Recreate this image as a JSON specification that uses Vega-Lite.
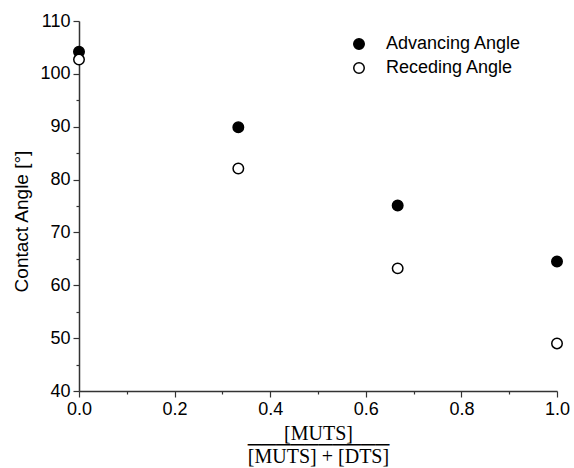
{
  "$schema": "https://vega.github.io/schema/vega-lite/v6.json",
  "width": 478,
  "height": 370,
  "autosize": "none",
  "padding": {"left": 79, "top": 21, "right": 17, "bottom": 77},
  "background": "white",
  "config": {
    "view": {"stroke": null},
    "font": "Liberation Sans",
    "axis": {
      "domainColor": "#333333",
      "domainWidth": 1.5,
      "tickColor": "#333333",
      "tickWidth": 1.2,
      "grid": false,
      "labelColor": "black",
      "titleColor": "black",
      "labelFont": "Liberation Sans",
      "labelFontSize": 18,
      "labelFlush": false,
      "titleFontWeight": "normal"
    }
  },
  "data": {
    "values": [
      {"x": 0.0, "angle": 104.2, "series": "Advancing Angle"},
      {"x": 0.3333, "angle": 89.9, "series": "Advancing Angle"},
      {"x": 0.6667, "angle": 75.1, "series": "Advancing Angle"},
      {"x": 1.0, "angle": 64.5, "series": "Advancing Angle"},
      {"x": 0.0, "angle": 102.7, "series": "Receding Angle"},
      {"x": 0.3333, "angle": 82.1, "series": "Receding Angle"},
      {"x": 0.6667, "angle": 63.2, "series": "Receding Angle"},
      {"x": 1.0, "angle": 49.0, "series": "Receding Angle"}
    ]
  },
  "resolve": {"axis": {"x": "independent", "y": "independent"}},
  "layer": [
    {
      "mark": {"type": "point", "opacity": 0},
      "encoding": {
        "x": {
          "field": "x", "type": "quantitative",
          "scale": {"domain": [0, 1], "nice": false, "zero": false},
          "axis": {"orient": "bottom", "values": [0.1, 0.3, 0.5, 0.7, 0.9], "labels": false, "domain": false, "tickSize": 3, "title": null}
        },
        "y": {
          "field": "angle", "type": "quantitative",
          "scale": {"domain": [40, 110], "nice": false, "zero": false},
          "axis": {"orient": "left", "values": [45, 55, 65, 75, 85, 95, 105], "labels": false, "domain": false, "tickSize": 3, "title": null}
        }
      }
    },
    {
      "mark": {"type": "point", "filled": true, "size": 110, "stroke": "black", "strokeWidth": 1.5, "opacity": 1},
      "encoding": {
        "x": {
          "field": "x", "type": "quantitative",
          "scale": {"domain": [0, 1], "nice": false, "zero": false},
          "axis": {
            "orient": "bottom",
            "values": [0, 0.2, 0.4, 0.6, 0.8, 1.0],
            "format": ".1f",
            "tickSize": 6,
            "labelPadding": 3,
            "title": ["[MUTS]", "──────────", "[MUTS] + [DTS]"],
            "titleFont": "Liberation Serif, DejaVu Sans",
            "titleFontSize": 20,
            "titleLineHeight": 11.5,
            "titlePadding": 5
          }
        },
        "y": {
          "field": "angle", "type": "quantitative",
          "scale": {"domain": [40, 110], "nice": false, "zero": false},
          "axis": {
            "orient": "left",
            "values": [40, 50, 60, 70, 80, 90, 100, 110],
            "tickSize": 6,
            "labelPadding": 3,
            "title": "Contact Angle [°]",
            "titleFont": "Liberation Sans",
            "titleFontSize": 19,
            "titlePadding": 8,
            "titleY": 200
          }
        },
        "fill": {
          "field": "series", "type": "nominal",
          "scale": {"domain": ["Advancing Angle", "Receding Angle"], "range": ["black", "white"]},
          "legend": {
            "orient": "none",
            "legendX": 271,
            "legendY": 14,
            "title": null,
            "padding": 0,
            "symbolType": "circle",
            "symbolSize": 110,
            "symbolStrokeColor": "black",
            "symbolStrokeWidth": 1.5,
            "labelFont": "Liberation Sans",
            "labelFontSize": 18,
            "labelColor": "black",
            "labelOffset": 18,
            "rowPadding": 6
          }
        }
      }
    }
  ]
}
